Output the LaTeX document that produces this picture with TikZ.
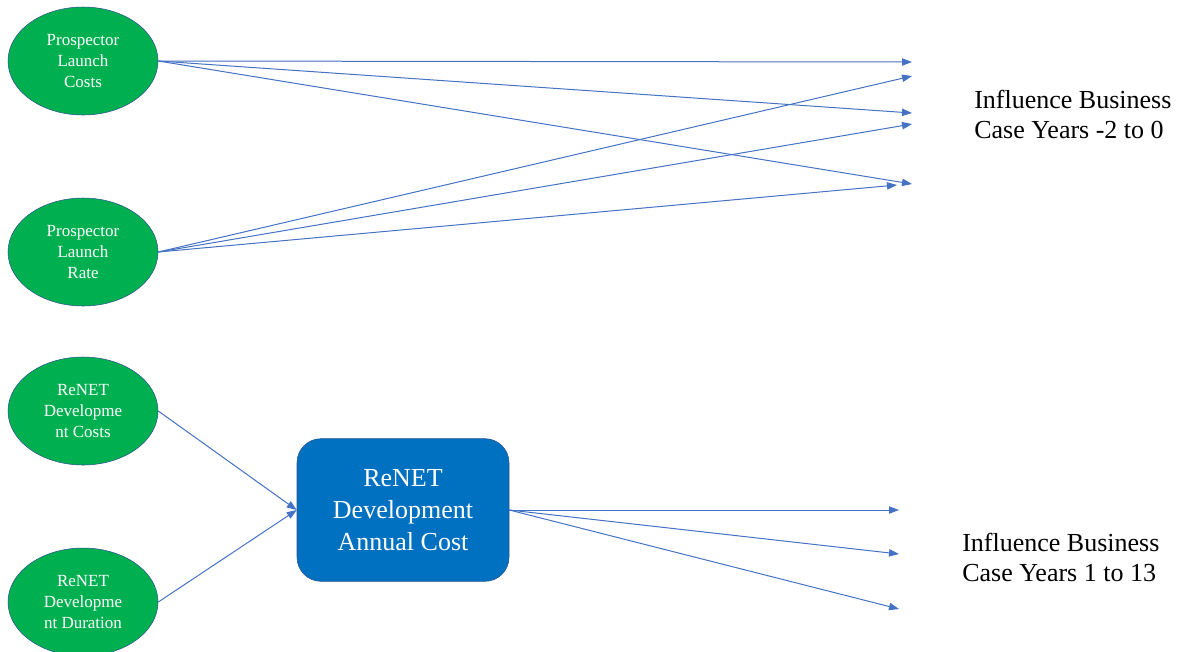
\documentclass[tikz,border=0pt]{standalone}
\usepackage{fontspec}
\setmainfont{Liberation Serif}
\usetikzlibrary{shapes.geometric,arrows.meta}

\definecolor{verde}{HTML}{00B050}
\definecolor{azul}{HTML}{0070C0}
\definecolor{borde}{HTML}{2F528F}
\definecolor{flecha}{HTML}{4472C4}

\begin{document}
\begin{tikzpicture}[
        x=0.75pt, y=-0.75pt,
        factor/.style={
            ellipse,
            draw=borde,
            fill=verde,
            text=white,
            minimum width=112.5pt,
            minimum height=81pt,
            inner sep=0pt,
            align=center,
            font=\fontsize{12.75}{15.75}\selectfont
        },
        caja/.style={
            rectangle,
            rounded corners=18pt,
            draw=borde,
            fill=azul,
            text=white,
            minimum width=159pt,
            minimum height=107pt,
            align=center,
            font=\fontsize{19.5}{24}\selectfont
        },
        nota/.style={
            anchor=west,
            inner sep=0pt,
            align=left,
            font=\fontsize{19.5}{22.5}\selectfont
        },
        flechas/.style={
            draw=flecha,
            line width=0.75pt,
            -{Triangle[length=7.5pt,width=5.5pt]}
        }
    ]
    \useasboundingbox (0,0) rectangle (1184,651);

    % Nodos
    \node[factor] (pc) at (83,61)  {Prospector\\Launch\\Costs};
    \node[factor] (pr) at (83,252) {Prospector\\Launch\\Rate};
    \node[factor] (rc) at (83,411) {ReNET\\Developme\\nt Costs};
    \node[factor] (rd) at (83,602) {ReNET\\Developme\\nt Duration};
    \node[caja]   (ac) at (403,510) {ReNET\\Development\\Annual Cost};

    \node[nota] (n1) at (974,114) {Influence Business\\Case Years -2 to 0};
    \node[nota] (n2) at (962,557) {Influence Business\\Case Years 1 to 13};

    % Extremos libres
    \coordinate (t1) at (912,62);
    \coordinate (t2) at (912,113);
    \coordinate (t3) at (912,184);
    \coordinate (t4) at (912,76);
    \coordinate (t5) at (912,124);
    \coordinate (t6) at (897,185);
    \coordinate (u1) at (899,510);
    \coordinate (u2) at (899,554);
    \coordinate (u3) at (899,609);

    % Flechas
    \draw[flechas] (pc.east) -- (t1);
    \draw[flechas] (pc.east) -- (t2);
    \draw[flechas] (pc.east) -- (t3);
    \draw[flechas] (pr.east) -- (t4);
    \draw[flechas] (pr.east) -- (t5);
    \draw[flechas] (pr.east) -- (t6);
    \draw[flechas] (rc.east) -- (ac.west);
    \draw[flechas] (rd.east) -- (ac.west);
    \draw[flechas] (ac.east) -- (u1);
    \draw[flechas] (ac.east) -- (u2);
    \draw[flechas] (ac.east) -- (u3);

\end{tikzpicture}
\end{document}
